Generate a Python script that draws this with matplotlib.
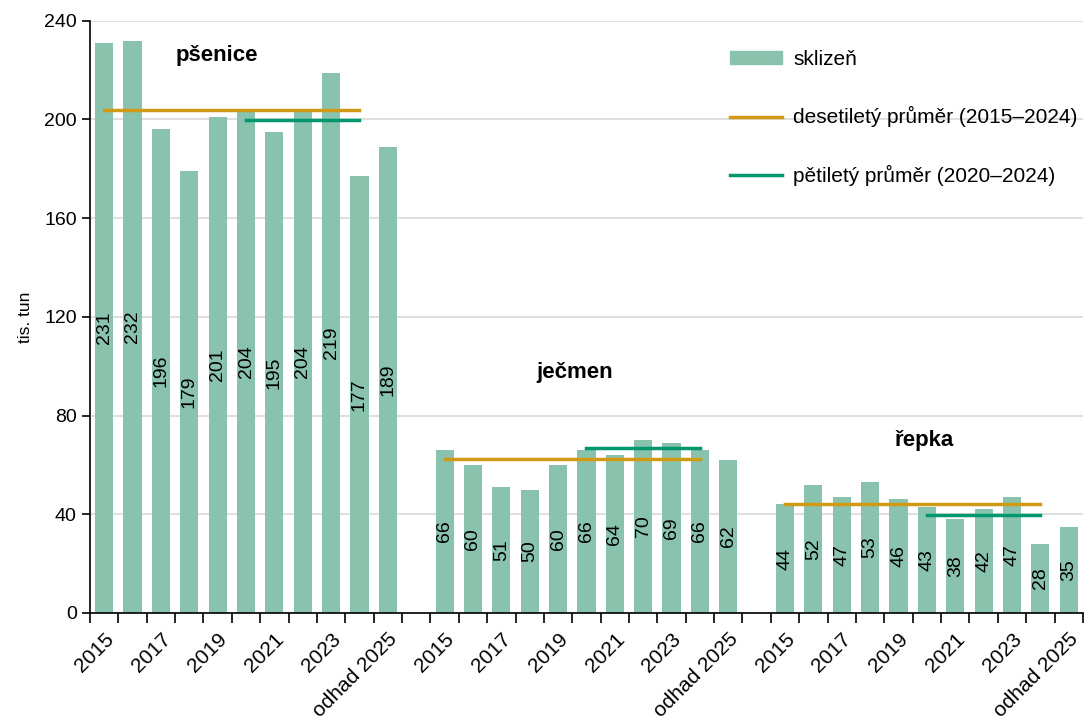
import numpy as np
import matplotlib.pyplot as plt
from matplotlib.patches import Patch
from matplotlib.lines import Line2D

plt.rcParams['font.family'] = ['Liberation Sans', 'DejaVu Sans']

years = ['2015', '2016', '2017', '2018', '2019', '2020', '2021', '2022', '2023', '2024', 'odhad 2025']
crops = ['pšenice', 'ječmen', 'řepka']
psenice = [231, 232, 196, 179, 201, 204, 195, 204, 219, 177, 189]
jecmen = [66, 60, 51, 50, 60, 66, 64, 70, 69, 66, 62]
repka = [44, 52, 47, 53, 46, 43, 38, 42, 47, 28, 35]
avg10 = [203.8, 62.2, 44.0]   # desetiletý průměr 2015-2024
avg5 = [199.8, 67.0, 39.6]    # pětiletý průměr 2020-2024

c_bar = '#89C3AE'
c_10 = '#D09A17'
c_5 = '#00966E'

fig = plt.figure(figsize=(10.84, 7.16), dpi=100)
ax = fig.add_axes([0.083, 0.144, 0.916, 0.827])

n = len(years)
labels = []
for g, vals in enumerate([psenice, jecmen, repka]):
    x0 = g * (n + 1)
    x = np.arange(x0, x0 + n)
    ax.bar(x, vals, width=0.64, color=c_bar, zorder=2)
    for xi, v in zip(x, vals):
        ax.text(xi, v / 2, str(v), rotation=90, ha='center', va='center', fontsize=14, zorder=3)
    ax.plot([x0, x0 + 9], [avg10[g], avg10[g]], color=c_10, lw=2.5, zorder=4)
    ax.plot([x0 + 5, x0 + 9], [avg5[g], avg5[g]], color=c_5, lw=2.5, zorder=4)
    labels += years + ([''] if g < 2 else [])

ticklabels = [lab if i % 2 == 0 else '' for i, lab in enumerate(labels)]
ax.set_xticks(np.arange(len(labels)))
ax.set_xticklabels(ticklabels, rotation=45, ha='right', rotation_mode='anchor', fontsize=15)
ax.tick_params(axis='x', which='major', length=0, pad=12)
ax.set_xticks(np.arange(len(labels) + 1) - 0.5, minor=True)
ax.tick_params(axis='x', which='minor', length=7, width=1.2, color='black')
ax.set_xlim(-0.5, len(labels) - 0.5)

ax.set_ylim(0, 240)
ax.set_yticks(np.arange(0, 241, 40))
ax.tick_params(axis='y', length=6, width=1.2, labelsize=14)
ax.yaxis.grid(True, color='#D9D9D9', lw=1.2, zorder=0)
ax.set_axisbelow(True)
ax.set_ylabel('tis. tun', fontsize=12.5, labelpad=8)

for s in ['top', 'right']:
    ax.spines[s].set_visible(False)
ax.spines['left'].set_linewidth(1.2)
ax.spines['bottom'].set_linewidth(1.2)

ax.text(3.97, 226, crops[0], fontsize=16, fontweight='bold', ha='center', va='center')
ax.text(16.6, 97.5, crops[1], fontsize=16, fontweight='bold', ha='center', va='center')
ax.text(28.9, 70, crops[2], fontsize=16, fontweight='bold', ha='center', va='center')

handles = [Patch(color=c_bar), Line2D([], [], color=c_10, lw=2.5), Line2D([], [], color=c_5, lw=2.5)]
leg_labels = ['sklizeň', 'desetiletý průměr (2015–2024)', 'pětiletý průměr (2020–2024)']
ax.legend(handles, leg_labels, loc='upper left', bbox_to_anchor=(0.636, 0.965), frameon=False,
          fontsize=15, labelspacing=1.8, handlelength=2.5, handleheight=0.55, handletextpad=0.55,
          borderaxespad=0)

fig.savefig('out.png', dpi=100)
